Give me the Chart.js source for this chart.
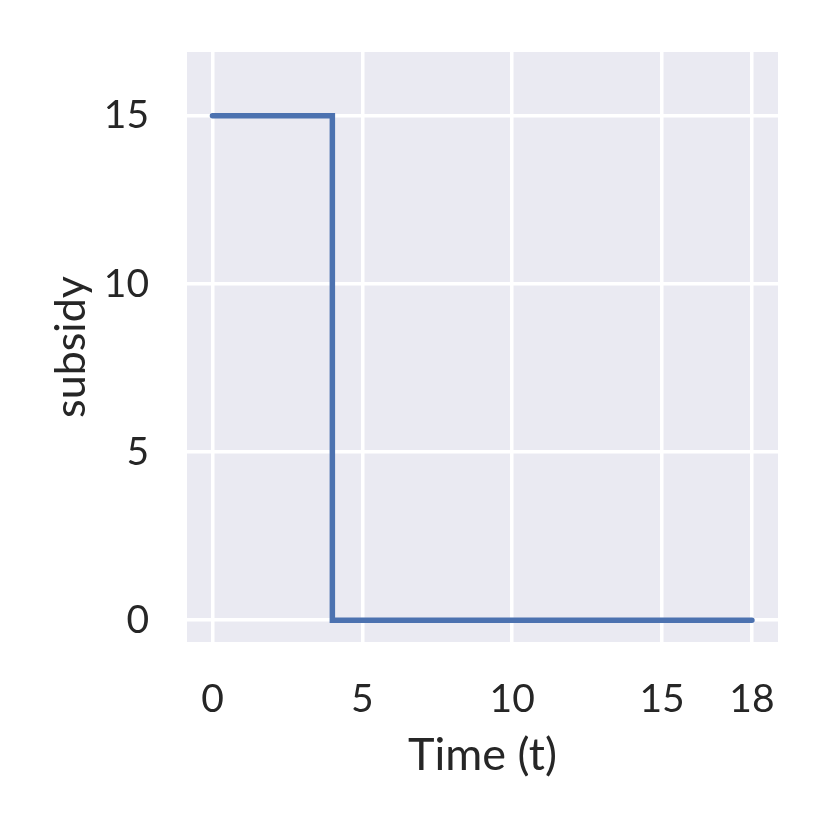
<!DOCTYPE html>
<html>
<head>
<meta charset="utf-8">
<script src="https://cdn.jsdelivr.net/npm/chart.js@4"></script>
<style>
  html, body { margin: 0; padding: 0; background: #fff; }
  #wrap { width: 830px; height: 830px; }
</style>
</head>
<body>
<div id="wrap"><canvas id="subsidyChart" width="830" height="830"></canvas></div>
<script>
// step points: value holds until next time
const times = [0, 4, 18];
const subsidy = [15, 0, 0];
const xTicks = [0, 5, 10, 15, 18];
const yTicks = [0, 5, 10, 15];

const fontFamily = 'Lato';
const textColor = '#262626';

// seaborn-ish background behind the plot area
const plotBg = {
  id: 'plotBg',
  beforeDraw(chart) {
    const { ctx, chartArea: a } = chart;
    ctx.save();
    ctx.fillStyle = '#EAEAF2';
    ctx.fillRect(a.left, a.top, a.right - a.left, a.bottom - a.top);
    ctx.restore();
  }
};

new Chart(subsidyChart, {
  type: 'line',
  data: {
    datasets: [{
      data: times.map((t, i) => ({ x: t, y: subsidy[i] })),
      stepped: 'before',
      borderColor: '#4C72B0',
      borderWidth: 5.5,
      borderCapStyle: 'round',
      borderJoinStyle: 'miter',
      pointRadius: 0,
      fill: false
    }]
  },
  options: {
    responsive: false,
    animation: false,
    layout: { padding: { top: 52, right: 52, left: 0, bottom: 0 } },
    plugins: { legend: { display: false }, tooltip: { enabled: false } },
    scales: {
      x: {
        type: 'linear',
        min: -0.85,
        max: 18.87,
        afterBuildTicks: s => { s.ticks = xTicks.map(v => ({ value: v })); },
        afterFit: s => { s.height = 188; s.paddingLeft = 0; s.paddingRight = 0; },
        grid: { color: '#ffffff', lineWidth: 3.5, drawTicks: false },
        border: { display: false },
        ticks: { color: textColor, font: { family: fontFamily, size: 39 }, padding: 34, maxRotation: 0 },
        title: { display: true, text: 'Time (t)', color: textColor,
          font: { family: fontFamily, size: 45 }, padding: { top: 0, bottom: 48 } }
      },
      y: {
        min: -0.65,
        max: 16.9,
        afterBuildTicks: s => { s.ticks = yTicks.map(v => ({ value: v })); },
        afterFit: s => { s.width = 187; s.paddingTop = 0; s.paddingBottom = 0; },
        grid: { color: '#ffffff', lineWidth: 3.5, drawTicks: false },
        border: { display: false },
        ticks: { color: textColor, font: { family: fontFamily, size: 39 }, padding: 38 },
        title: { display: true, text: 'subsidy', color: textColor,
          font: { family: fontFamily, size: 43 }, padding: { top: 45, bottom: 0 } }
      }
    }
  },
  plugins: [plotBg]
});
</script>
</body>
</html>
